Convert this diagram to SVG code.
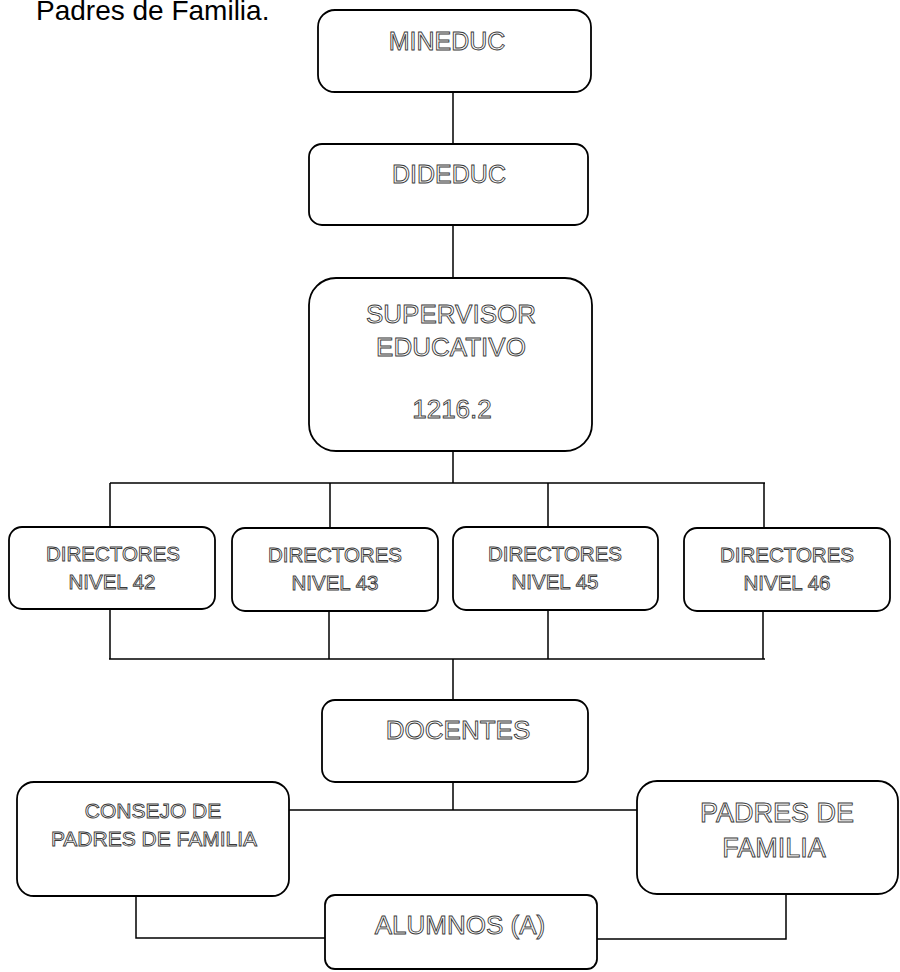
<svg xmlns="http://www.w3.org/2000/svg" width="900" height="972" viewBox="0 0 900 972">
<style>
.box{fill:#fff;stroke:#000;stroke-width:1.8}
.ln{fill:none;stroke:#000;stroke-width:1.5}
.t{font-family:"Liberation Sans",Arial,sans-serif;fill:#fff;stroke:#3a3a3a;stroke-width:0.9;text-anchor:middle}
.title{font-family:"Liberation Sans",Arial,sans-serif;fill:#000;font-size:28px}
</style>
<rect width="900" height="972" fill="#fff"/>
<text class="title" x="36" y="20">Padres de Familia.</text>
<g id="connectors">
<path class="ln" d="M453 92V144M453 225V278M453 451V483M110 483H765M110 483V527M330 483V528M548 483V527M764 483V528M110 609V659M329 611V659M548 610V659M763 611V659M109 659H765M453 659V700M453 782V810M289 810H637M136 896V938H325M786 894V939H597"/>
</g>
<g id="mineduc">
<rect class="box" x="318" y="10" width="273" height="82" rx="17"/>
<text class="t" x="447" y="50" font-size="25">MINEDUC</text>
</g>
<g id="dideduc">
<rect class="box" x="309" y="144" width="279" height="81" rx="13"/>
<text class="t" x="449" y="183" font-size="25">DIDEDUC</text>
</g>
<g id="supervisor">
<rect class="box" x="309" y="278" width="283" height="173" rx="27"/>
<text class="t" x="451" y="323" font-size="26">SUPERVISOR</text>
<text class="t" x="451" y="356" font-size="26">EDUCATIVO</text>
<text class="t" x="452" y="418" font-size="26">1216.2</text>
</g>
<g id="dir42">
<rect class="box" x="9" y="527" width="206" height="82" rx="13"/>
<text class="t" x="113" y="561" font-size="20.5">DIRECTORES</text>
<text class="t" x="112" y="589" font-size="20.5">NIVEL 42</text>
</g>
<g id="dir43">
<rect class="box" x="232" y="528" width="206" height="83" rx="13"/>
<text class="t" x="335" y="562" font-size="20.5">DIRECTORES</text>
<text class="t" x="335" y="590" font-size="20.5">NIVEL 43</text>
</g>
<g id="dir45">
<rect class="box" x="453" y="527" width="205" height="83" rx="13"/>
<text class="t" x="555" y="561" font-size="20.5">DIRECTORES</text>
<text class="t" x="555" y="589" font-size="20.5">NIVEL 45</text>
</g>
<g id="dir46">
<rect class="box" x="684" y="528" width="206" height="83" rx="13"/>
<text class="t" x="787" y="562" font-size="20.5">DIRECTORES</text>
<text class="t" x="787" y="590" font-size="20.5">NIVEL 46</text>
</g>
<g id="docentes">
<rect class="box" x="322" y="700" width="266" height="82" rx="13"/>
<text class="t" x="458" y="739" font-size="26">DOCENTES</text>
</g>
<g id="consejo">
<rect class="box" x="17" y="782" width="272" height="114" rx="17"/>
<text class="t" x="153" y="818" font-size="21">CONSEJO DE</text>
<text class="t" x="154" y="846" font-size="21">PADRES DE FAMILIA</text>
</g>
<g id="padres">
<rect class="box" x="637" y="781" width="261" height="113" rx="20"/>
<text class="t" x="777" y="822" font-size="27">PADRES DE</text>
<text class="t" x="774" y="857" font-size="27">FAMILIA</text>
</g>
<g id="alumnos">
<rect class="box" x="325" y="895" width="272" height="74" rx="10"/>
<text class="t" x="460" y="934" font-size="26">ALUMNOS (A)</text>
</g>
</svg>
